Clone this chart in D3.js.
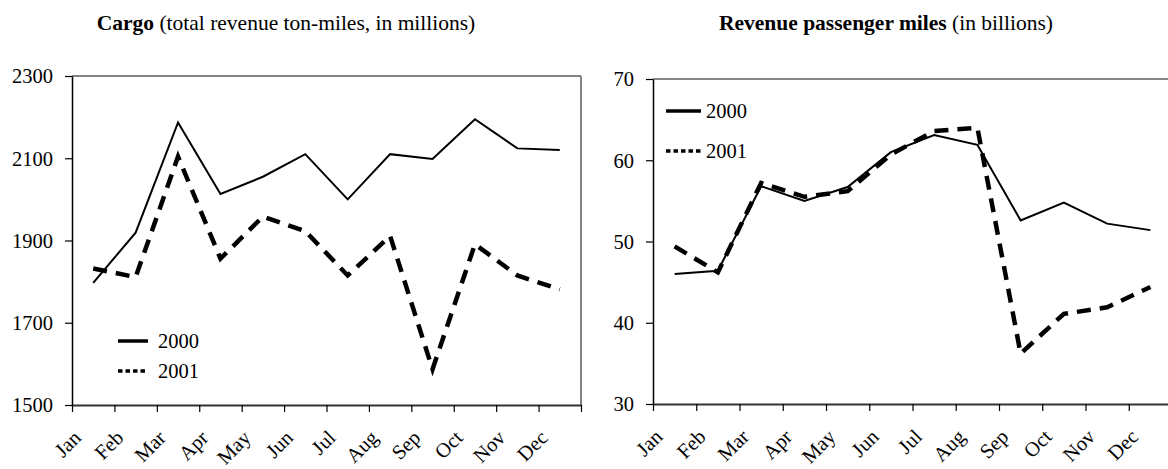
<!DOCTYPE html>
<html>
<head>
<meta charset="utf-8">
<script src="https://cdn.jsdelivr.net/npm/d3@7"></script>
<style>
  body { margin: 0; background: #fff; }
  svg { display: block; }
  text { font-family: "Liberation Serif", "Times New Roman", serif; fill: #000; }
</style>
</head>
<body>
<svg id="chart"></svg>
<script>
// data
var months = ["Jan", "Feb", "Mar", "Apr", "May", "Jun", "Jul", "Aug", "Sep", "Oct", "Nov", "Dec"];
var years = ["2000", "2001"];

var cargo2000 = [1797, 1919, 2187, 2013, 2055, 2110, 2000, 2110, 2098, 2195, 2124, 2120];
var cargo2001 = [1832, 1811, 2104, 1856, 1958, 1923, 1815, 1911, 1587, 1891, 1815, 1781];
var cargoTicks = [1500, 1700, 1900, 2100, 2300];

var rpm2000 = [46.0, 46.4, 56.8, 55.0, 56.7, 61.0, 63.1, 61.9, 52.6, 54.8, 52.2, 51.4];
var rpm2001 = [49.4, 46.2, 57.2, 55.5, 56.2, 60.7, 63.6, 64.0, 36.2, 41.1, 41.9, 44.4];
var rpmTicks = [30, 40, 50, 60, 70];

var W = 1168, H = 469;
var FS = 20.5;

var svg = d3.select("#chart").attr("width", W).attr("height", H);

function drawPanel(opt) {
  var g = svg.append("g");

  var x = d3.scaleBand().domain(months).range([opt.left, opt.right]);
  var xt = d3.scaleLinear().domain([0, 12]).range([opt.left, opt.right]);
  var y = d3.scaleLinear().domain(d3.extent(opt.ticks)).range([opt.bottom, opt.top]);

  // title
  var t = g.append("text")
    .attr("x", opt.titleX).attr("y", opt.titleY)
    .attr("text-anchor", "middle")
    .style("font-size", "21.5px");
  t.append("tspan").style("font-weight", "bold").text(opt.titleBold);
  t.append("tspan").text(opt.titleRest);

  // top and right frame (grey)
  g.append("line")
    .attr("x1", opt.left).attr("x2", Math.min(opt.right, W))
    .attr("y1", opt.top).attr("y2", opt.top)
    .attr("stroke", "#858585").attr("stroke-width", 2);
  g.append("line")
    .attr("x1", opt.right).attr("x2", opt.right)
    .attr("y1", opt.top).attr("y2", opt.bottom)
    .attr("stroke", "#858585").attr("stroke-width", 2);

  // y axis
  var ya = g.append("g")
    .attr("transform", "translate(" + opt.left + ",0)")
    .call(d3.axisLeft(y).tickValues(opt.ticks).tickSize(7).tickSizeOuter(0).tickFormat(d3.format("d")));
  ya.select(".domain").attr("stroke", "#000").attr("stroke-width", 1.5);
  ya.selectAll(".tick line").attr("stroke", "#000").attr("stroke-width", 1.2);
  ya.selectAll(".tick text")
    .attr("x", -opt.labGap).attr("dy", "0.33em")
    .style("font-size", FS + "px").style("font-family", null);

  // x axis: ticks on category edges
  var xa = g.append("g")
    .attr("transform", "translate(0," + opt.bottom + ")")
    .call(d3.axisBottom(xt).tickValues(d3.range(13)).tickSize(7).tickSizeOuter(0).tickFormat(""));
  xa.select(".domain").attr("stroke", "#333").attr("stroke-width", 2);
  xa.selectAll(".tick line").attr("stroke", "#000").attr("stroke-width", 1.2);

  // month names, turned 45 degrees
  g.selectAll(".mlab")
    .data(months)
    .enter().append("text")
    .attr("class", "mlab")
    .attr("text-anchor", "end")
    .attr("dy", "0.35em")
    .attr("transform", function(d) {
      return "translate(" + (x(d) + x.bandwidth() / 2 - 16) + "," + (opt.bottom + 29) + ") rotate(-45)";
    })
    .style("font-size", FS + "px")
    .text(function(d) { return d; });

  var line = d3.line()
    .x(function(d, i) { return x(months[i]) + x.bandwidth() / 2; })
    .y(function(d) { return y(d); });

  g.append("path").datum(opt.s2000)
    .attr("d", line).attr("fill", "none")
    .attr("stroke", "#000").attr("stroke-width", 2).attr("stroke-linejoin", "miter");
  g.append("path").datum(opt.s2001)
    .attr("d", line).attr("fill", "none")
    .attr("stroke", "#000").attr("stroke-width", 4.5)
    .attr("stroke-dasharray", "14,9");

  // legend
  var lg = g.append("g").attr("transform", "translate(" + opt.legX + "," + opt.legY + ")");
  years.forEach(function(yr, i) {
    var row = lg.append("g").attr("transform", "translate(0," + (i * opt.legGap) + ")");
    row.append("line")
      .attr("x1", 0).attr("x2", opt.legLen).attr("y1", 0).attr("y2", 0)
      .attr("stroke", "#000").attr("stroke-width", 3.5)
      .attr("stroke-dasharray", i === 0 ? null : "4.5,3");
    row.append("text")
      .attr("x", opt.legLen + opt.legPad)
      .attr("dy", "0.35em")
      .style("font-size", FS + "px")
      .text(yr);
  });
}

drawPanel({
  left: 72, right: 581, top: 76, bottom: 405, labGap: 19,
  ticks: cargoTicks, s2000: cargo2000, s2001: cargo2001,
  titleX: 286, titleY: 30, titleBold: "Cargo", titleRest: " (total revenue ton-miles, in millions)",
  legX: 118, legY: 341, legGap: 30, legLen: 30, legPad: 10
});

drawPanel({
  left: 653, right: 1172, top: 79, bottom: 404, labGap: 19,
  ticks: rpmTicks, s2000: rpm2000, s2001: rpm2001,
  titleX: 886, titleY: 30, titleBold: "Revenue passenger miles", titleRest: " (in billions)",
  legX: 666, legY: 111, legGap: 40, legLen: 35, legPad: 5
});
</script>
</body>
</html>
